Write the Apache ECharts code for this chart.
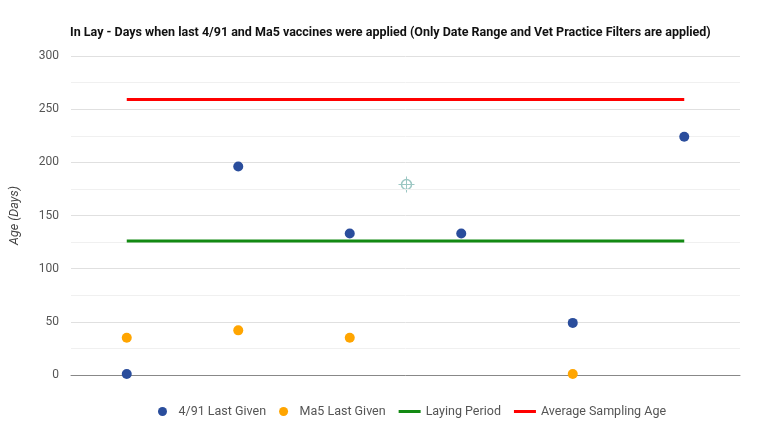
<!DOCTYPE html>
<html><head><meta charset="utf-8">
<script src="https://cdn.jsdelivr.net/npm/echarts@6/dist/echarts.min.js"></script>
<style>html,body{margin:0;padding:0;background:#fff}#c{width:764px;height:436px}</style>
</head><body><div id="c"></div>
<script>
const categories = ['1','2','3','4','5','6'];
const vaccine491 = [1, 196, 133, 133, 49, 224];
const ma5 = [35, 42, 35, null, 1, null];
const layingPeriod = [126, 126, 126, 126, 126, 126];
const avgSamplingAge = [259, 259, 259, 259, 259, 259];
const yTicks = [0, 50, 100, 150, 200, 250, 300];

const lineIcon = 'path://M0,0 L22,0 L22,3 L0,3 Z';
const chart = echarts.init(document.getElementById('c'));
chart.setOption({
  animation: false,
  title: {
    text: 'In Lay - Days when last 4/91 and Ma5 vaccines were applied (Only Date Range and Vet Practice Filters are applied)',
    left: 65, top: 21,
    textStyle: {fontFamily: 'Roboto', fontWeight: 'bold', fontSize: 12.5, color: '#111'}
  },
  legend: {
    bottom: 13, left: 153, itemGap: 13, itemWidth: 22, itemHeight: 9,
    textStyle: {fontFamily: 'Roboto', fontSize: 12.5, color: '#555'},
    data: [
      {name: '4/91 Last Given', icon: 'circle'},
      {name: 'Ma5 Last Given', icon: 'circle'},
      {name: 'Laying Period', icon: lineIcon},
      {name: 'Average Sampling Age', icon: lineIcon}
    ]
  },
  grid: {left: 70, right: 24, top: 56, bottom: 61},
  xAxis: {
    type: 'category', data: categories, boundaryGap: true,
    axisLine: {lineStyle: {color: '#888', width: 1}},
    axisTick: {show: false}, axisLabel: {show: false}
  },
  yAxis: {
    type: 'value', min: 0, max: 300, interval: 50,
    name: 'Age (Days)', nameLocation: 'middle', nameGap: 50,
    nameTextStyle: {fontFamily: 'Roboto', fontStyle: 'italic', fontSize: 12.5, color: '#444'},
    axisLabel: {fontFamily: 'Roboto', fontSize: 12, color: '#555', margin: 12,
      formatter: v => yTicks.includes(v) ? String(v) : ''},
    splitLine: {lineStyle: {color: '#e0e0e0'}},
    minorTick: {show: false, splitNumber: 2},
    minorSplitLine: {show: true, lineStyle: {color: '#f0f0f0'}}
  },
  series: [
    {name: '4/91 Last Given', type: 'scatter', data: vaccine491, symbolSize: 10,
      itemStyle: {color: '#2a4d9c', opacity: 1}, z: 5},
    {name: 'Ma5 Last Given', type: 'scatter', data: ma5, symbolSize: 10,
      itemStyle: {color: '#ffa500', opacity: 1}, z: 5},
    {name: 'Laying Period', type: 'line', data: layingPeriod, showSymbol: false, symbol: 'none',
      lineStyle: {color: '#138a13', width: 3}, itemStyle: {color: '#138a13'}},
    {name: 'Average Sampling Age', type: 'line', data: avgSamplingAge, showSymbol: false, symbol: 'none',
      lineStyle: {color: '#ff0000', width: 3}, itemStyle: {color: '#ff0000'}}
  ],
  graphic: [{
    type: 'group', left: 396, top: 174, children: [
      {type: 'circle', shape: {cx: 8, cy: 8, r: 5}, style: {fill: 'none', stroke: '#9cc7c3', lineWidth: 1.5}},
      {type: 'line', shape: {x1: 8, y1: 0, x2: 8, y2: 16}, style: {stroke: '#9cc7c3', lineWidth: 1}},
      {type: 'line', shape: {x1: 0, y1: 8, x2: 16, y2: 8}, style: {stroke: '#9cc7c3', lineWidth: 1}}
    ]
  }]
});
</script></body></html>
